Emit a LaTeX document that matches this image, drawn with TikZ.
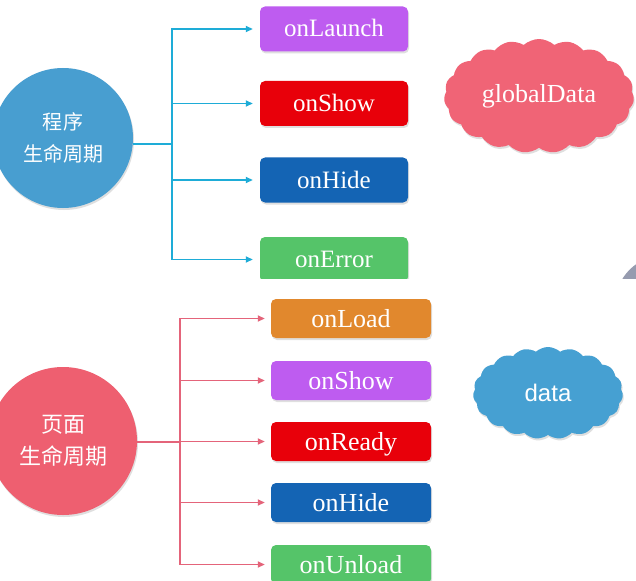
\documentclass[tikz,border=0pt]{standalone}
\usepackage{fontspec}
\setmainfont{Liberation Serif}
\newfontfamily\cjk{Noto Sans CJK SC}
\newfontfamily\arialf{Liberation Sans}
\usetikzlibrary{shapes.symbols,arrows.meta,shadows}
\definecolor{circblue}{RGB}{72,158,208}
\definecolor{linecyan}{RGB}{30,172,215}
\definecolor{cpurple}{RGB}{190,92,240}
\definecolor{cred}{RGB}{232,0,10}
\definecolor{cblue}{RGB}{20,100,180}
\definecolor{cgreen}{RGB}{85,196,105}
\definecolor{cpink}{RGB}{240,100,118}
\definecolor{circpink}{RGB}{238,95,112}
\definecolor{linepink}{RGB}{228,100,122}
\definecolor{corange}{RGB}{225,136,45}
\definecolor{cloudblue}{RGB}{70,160,210}
\definecolor{wedgegray}{RGB}{150,155,175}
\tikzset{
  shad/.style={drop shadow={opacity=0.25,shadow xshift=1pt,shadow yshift=-2pt}},
  circ/.style={circle,shad,text=white,align=center,inner sep=0pt},
  box/.style={rectangle,rounded corners=5pt,shad,text=white,inner sep=0pt},
  topbox/.style={box,minimum width=148,minimum height=45,text height=18pt,text depth=2pt,font=\fontsize{25}{25}\selectfont},
  botbox/.style={box,minimum width=160,minimum height=39,text height=18.5pt,text depth=1.5pt,font=\fontsize{26}{26}\selectfont},
  tline/.style={draw=linecyan,line width=1.8pt},
  tarr/.style={tline,-{Triangle[length=7pt,width=6pt]},shorten >=7pt},
  bline/.style={draw=linepink,line width=1.8pt},
  barr/.style={bline,-{Triangle[length=7pt,width=6pt]},shorten >=6pt},
  cloudnode/.style={cloud,cloud puffs=19,cloud puff arc=85,cloud ignores aspect,shad,text=white,inner sep=0pt}
}
\begin{document}
\begin{tikzpicture}[x=1pt,y=-1pt]
\useasboundingbox (0,0) rectangle (636,580);
\clip (0,0) rectangle (636,580);
\fill[white] (0,0) rectangle (636,580);
% ---------- top part ----------
\begin{scope}
\clip (0,0) rectangle (636,278);
\fill[wedgegray] (665,305) circle (50);
\node[circ,fill=circblue,minimum size=140,font=\cjk\fontsize{20}{32}\selectfont] (c1) at (63,138) {程序\\生命周期};
\node[topbox,fill=cpurple] (t1) at (334,29) {onLaunch};
\node[topbox,fill=cred] (t2) at (334,103.5) {onShow};
\node[topbox,fill=cblue] (t3) at (334,180) {onHide};
\node[topbox,fill=cgreen] (t4) at (334,259.5) {onError};
\coordinate (j1) at (172,144);
\draw[tline] (c1.east |- j1) -- (j1);
\foreach \b in {t1,t2,t3,t4} \draw[tarr] (j1) |- (\b.west);
\node[cloudnode,fill=cpink,minimum width=190,minimum height=114,font=\fontsize{26}{26}\selectfont] (gd) at (539,96) {globalData};
\end{scope}
% ---------- bottom part ----------
\node[circ,fill=circpink,minimum size=148,font=\cjk\fontsize{22}{32}\selectfont] (c2) at (63,441) {页面\\生命周期};
\node[botbox,fill=corange] (p1) at (351,318.5) {onLoad};
\node[botbox,fill=cpurple] (p2) at (351,380.5) {onShow};
\node[botbox,fill=cred] (p3) at (351,441.5) {onReady};
\node[botbox,fill=cblue] (p4) at (351,502.5) {onHide};
\node[botbox,fill=cgreen] (p5) at (351,564.5) {onUnload};
\coordinate (j2) at (180,442);
\draw[bline] (c2.east |- j2) -- (j2);
\foreach \b in {p1,p2,p3,p4,p5} \draw[barr] (j2) |- (\b.west);
\node[cloudnode,fill=cloudblue,minimum width=150,minimum height=92,font=\arialf\fontsize{24}{24}\selectfont] (dt) at (548,393) {data};
\end{tikzpicture}
\end{document}
